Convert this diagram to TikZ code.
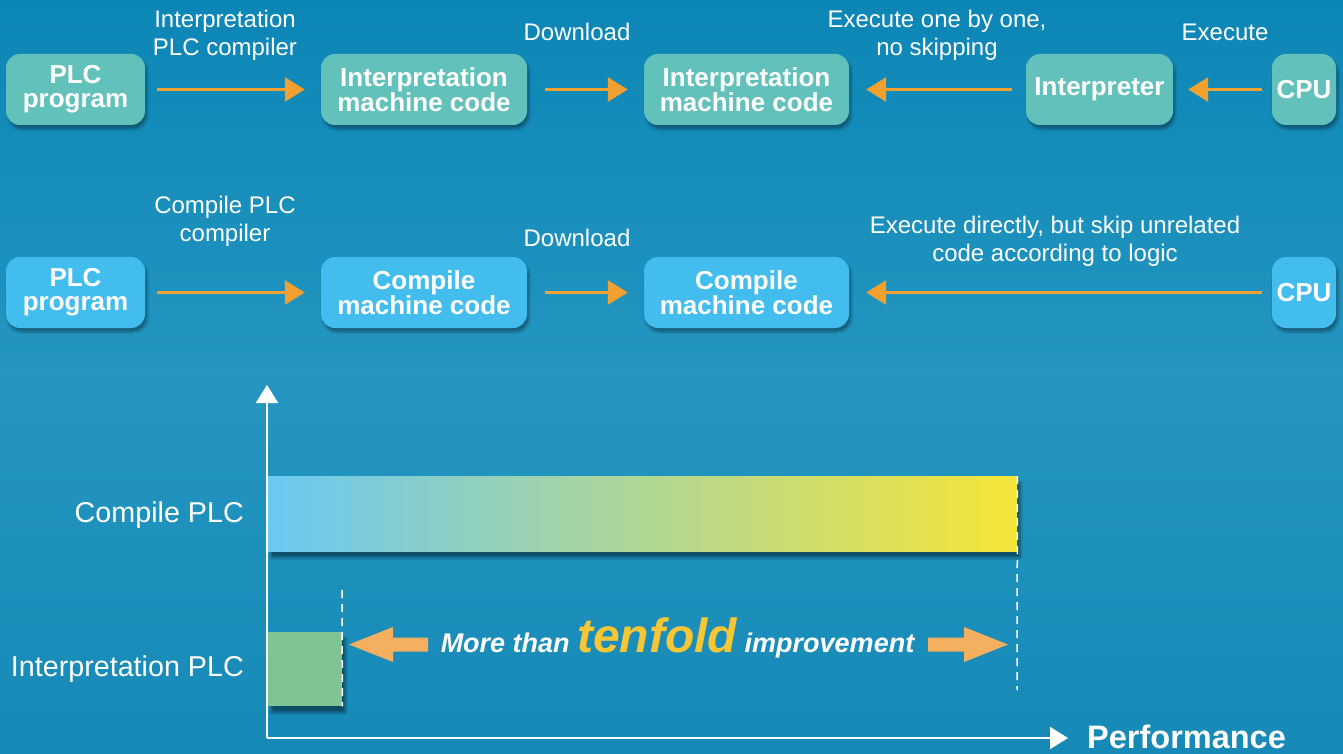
\documentclass[tikz,border=0pt]{standalone}
\usepackage{fontspec}
\setmainfont{Liberation Sans}
\usetikzlibrary{arrows.meta,shadows.blur,positioning}
\definecolor{bgtop}{RGB}{12,134,182}
\definecolor{bgmid}{RGB}{36,150,192}
\definecolor{bgbot}{RGB}{22,137,183}
\definecolor{tealbox}{RGB}{98,193,187}
\definecolor{bluebox}{RGB}{66,189,238}
\definecolor{orangeA}{RGB}{242,160,48}
\definecolor{orangeB}{RGB}{244,176,94}
\definecolor{barblue}{RGB}{106,200,242}
\definecolor{baryellow}{RGB}{246,229,56}
\definecolor{bargreen}{RGB}{128,196,150}
\definecolor{tenyellow}{RGB}{246,198,52}
\tikzset{
  boxbase/.style={rounded corners=14pt, text=white, align=center, inner sep=0pt,
    font=\bfseries\fontsize{26}{24}\selectfont,
    blur shadow={shadow xshift=2pt, shadow yshift=-4pt, shadow blur steps=6, shadow opacity=35}},
  tbox/.style={boxbase, fill=tealbox},
  bbox/.style={boxbase, fill=bluebox},
  lbl/.style={text=white, align=center, inner sep=0pt, font=\fontsize{24}{28}\selectfont},
  oarr/.style={draw=orangeA, line width=3pt, -{Triangle[length=20pt,width=24pt]}},
  axisline/.style={draw=white, line width=2pt},
  dashln/.style={draw=white, line width=1.5pt, dash pattern=on 8pt off 6pt},
  fatarrow/.style={fill=orangeB},
  chartlbl/.style={text=white, inner sep=0pt, anchor=east, font=\fontsize{28.7}{30}\selectfont}
}
\begin{document}
\begin{tikzpicture}[x=1pt,y=-1pt]
\useasboundingbox (0,0) rectangle (1343,754);
\shade[top color=bgtop, bottom color=bgbot, middle color=bgmid] (0,0) rectangle (1343,754);

% ---------- Row 1 (interpretation) ----------
\node[tbox, minimum width=139pt, minimum height=71pt] (p1) at (75.5,89.5) {PLC\\program};
\node[tbox, minimum width=206pt, minimum height=71pt] (a1) at (424,89.5) {Interpretation\\machine code};
\node[tbox, minimum width=205pt, minimum height=71pt] (b1) at (746.5,89.5) {Interpretation\\machine code};
\node[tbox, minimum width=147pt, minimum height=71pt] (ip) at (1099.5,89.5) {Interpreter};
\node[tbox, minimum width=64pt, minimum height=71pt] (c1) at (1304,89.5) {CPU};

\draw[oarr, shorten <=12pt, shorten >=16pt] (p1) -- (a1);
\draw[oarr, shorten <=18pt, shorten >=16pt] (a1) -- (b1);
\draw[oarr, shorten <=14pt, shorten >=17pt] (ip) -- (b1);
\draw[oarr, shorten <=10pt, shorten >=15pt] (c1) -- (ip);

\node[lbl] (l1) at (225,35) {Interpretation\\PLC compiler};
\node[lbl] (l2) at (577,32) {Download};
\node[lbl] (l3) at (937,35) {Execute one by one,\\no skipping};
\node[lbl] (l4) at (1225,32) {Execute};

% ---------- Row 2 (compile) ----------
\node[bbox, minimum width=139pt, minimum height=71pt] (p2) at (75.5,292.5) {PLC\\program};
\node[bbox, minimum width=206pt, minimum height=71pt] (a2) at (424,292.5) {Compile\\machine code};
\node[bbox, minimum width=205pt, minimum height=71pt] (b2) at (746.5,292.5) {Compile\\machine code};
\node[bbox, minimum width=64pt, minimum height=71pt] (c2) at (1304,292.5) {CPU};

\draw[oarr, shorten <=12pt, shorten >=16pt] (p2) -- (a2);
\draw[oarr, shorten <=18pt, shorten >=16pt] (a2) -- (b2);
\draw[oarr, shorten <=10pt, shorten >=17pt] (c2) -- (b2);

\node[lbl] (m1) at (225,221) {Compile PLC\\compiler};
\node[lbl] (m2) at (577,238) {Download};
\node[lbl] (m3) at (1055,241) {Execute directly, but skip unrelated\\code according to logic};

% ---------- Chart ----------
\coordinate (origin) at (267,738);
\coordinate (ytop) at (267,385);
\coordinate (xend) at (1068,738);

\node[inner sep=0pt, minimum width=749pt, minimum height=75pt, anchor=north west,
      left color=barblue, right color=baryellow,
      blur shadow={shadow xshift=3pt, shadow yshift=-6pt, shadow blur steps=8, shadow opacity=45}]
      (cbar) at (268,476) {};
\node[inner sep=0pt, minimum width=74pt, minimum height=74pt, anchor=north west, fill=bargreen,
      blur shadow={shadow xshift=3pt, shadow yshift=-6pt, shadow blur steps=8, shadow opacity=45}]
      (ibar) at (268,632) {};

\draw[axisline, -{Triangle[length=18pt,width=22pt]}] (origin) -- (ytop);
\draw[axisline, -{Triangle[length=18pt,width=22pt]}] (origin) -- (xend);

\coordinate (d1top) at (342,590);
\coordinate (d2bot) at (1017,690);
\draw[dashln] (d1top) -- (ibar.south east);
\draw[dashln] (cbar.north east) -- (d2bot);

\fill[fatarrow] (349,644.5) -- (393,627) -- (393,637.5) -- (428,637.5) -- (428,651.5) -- (393,651.5) -- (393,662) -- cycle;
\fill[fatarrow] (1008,644.5) -- (964,627) -- (964,637.5) -- (928,637.5) -- (928,651.5) -- (964,651.5) -- (964,662) -- cycle;

\node[anchor=base, inner sep=0pt, text=white, font=\bfseries\itshape\fontsize{27}{30}\selectfont] (imp) at (677.5,652)
  {More than {\color{tenyellow}\fontsize{48}{50}\selectfont tenfold} improvement};

\node[chartlbl] (cl) at (244,515) {Compile PLC};
\node[chartlbl] (il) at (244,669) {Interpretation PLC};
\node[anchor=west, inner sep=0pt, text=white, font=\bfseries\fontsize{32.5}{34}\selectfont] (perf) at (1087,737) {Performance};
\end{tikzpicture}
\end{document}
